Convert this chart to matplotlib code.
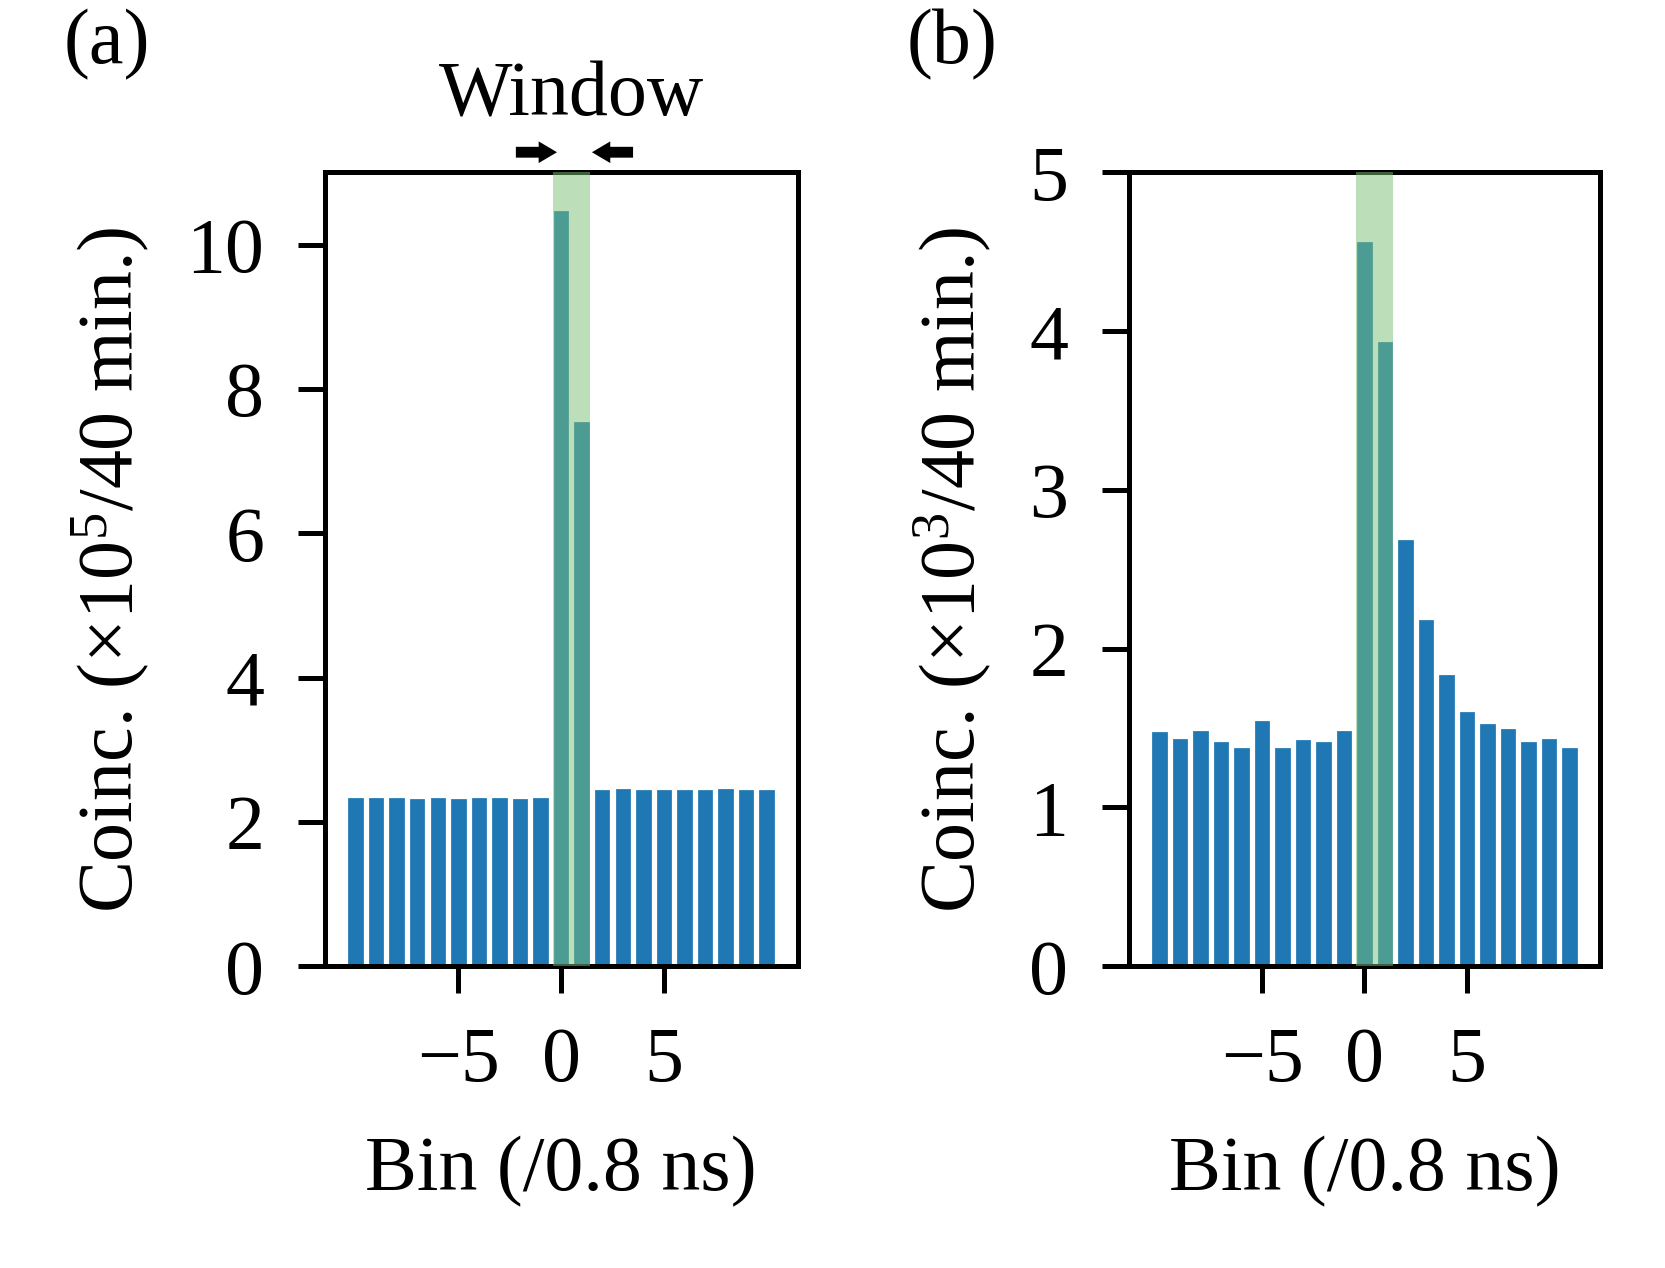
import matplotlib
matplotlib.use("Agg")
import matplotlib.pyplot as plt
import numpy as np

# bins (/0.8 ns)
bins = np.arange(-10, 11)

# panel (a), x10^5 counts per 40 min
coinc_a = [2.35, 2.35, 2.34, 2.33, 2.35, 2.33, 2.35, 2.34, 2.33, 2.35,
           10.48, 7.56,
           2.46, 2.47, 2.45, 2.45, 2.46, 2.45, 2.47, 2.46, 2.46]

# panel (b), x10^3 counts per 40 min
coinc_b = [1.48, 1.44, 1.49, 1.42, 1.38, 1.55, 1.38, 1.43, 1.42, 1.49,
           4.57, 3.94,
           2.69, 2.19, 1.84, 1.61, 1.53, 1.50, 1.42, 1.44, 1.38]

window = (-0.4, 1.4)
xticks = [-5, 0, 5]

FS = 18.7
plt.rcParams['font.family'] = ['Liberation Serif', 'DejaVu Serif']
plt.rcParams['mathtext.fontset'] = 'custom'
plt.rcParams['mathtext.rm'] = 'Liberation Serif'
plt.rcParams['mathtext.it'] = 'Liberation Serif:italic'
plt.rcParams['font.size'] = FS
plt.rcParams['axes.linewidth'] = 1.2

fig = plt.figure(figsize=(5.55, 4.2267), dpi=300)
ax1 = fig.add_axes([0.195, 0.238, 0.284, 0.626])
ax2 = fig.add_axes([0.678, 0.238, 0.283, 0.626])

def draw_panel(ax, vals, ymax, yticks, exp):
    ax.bar(bins, vals, width=0.8, color='tab:blue', edgecolor='white', linewidth=0.3)
    ax.axvspan(window[0], window[1], color='#7bc175', alpha=0.5, lw=0, zorder=5)
    ax.set_xlim(-11.5, 11.5)
    ax.set_ylim(0, ymax)
    ax.set_xticks(xticks)
    ax.set_yticks(yticks)
    ax.tick_params(direction='out', length=6.5, width=1.2)
    ax.tick_params(axis='x', pad=8)
    ax.tick_params(axis='y', pad=8)
    ax.set_xlabel('Bin (/0.8 ns)', labelpad=9)
    ax.set_ylabel('Coinc. (×10$^{%d}$/40 min.)' % exp, labelpad=8.5)

draw_panel(ax1, coinc_a, 11, [0, 2, 4, 6, 8, 10], 5)
draw_panel(ax2, coinc_b, 5, [0, 1, 2, 3, 4, 5], 3)

# window arrows over panel (a)
arr = dict(arrowstyle='simple,head_length=0.22,head_width=0.26,tail_width=0.13',
           fc='k', ec='none', lw=0, shrinkA=0, shrinkB=0, mutation_scale=20)
ax1.annotate('', xy=(-0.2, 11.28), xytext=(-2.2, 11.28), arrowprops=arr,
             annotation_clip=False)
ax1.annotate('', xy=(1.5, 11.28), xytext=(3.5, 11.28), arrowprops=arr,
             annotation_clip=False)
ax1.text(0.5, 12.05, 'Window', ha='center', va='center', fontsize=FS)

fig.text(0.064, 0.965, '(a)', ha='center', va='center', fontsize=FS)
fig.text(0.572, 0.965, '(b)', ha='center', va='center', fontsize=FS)

fig.savefig('out.png', dpi=300)
